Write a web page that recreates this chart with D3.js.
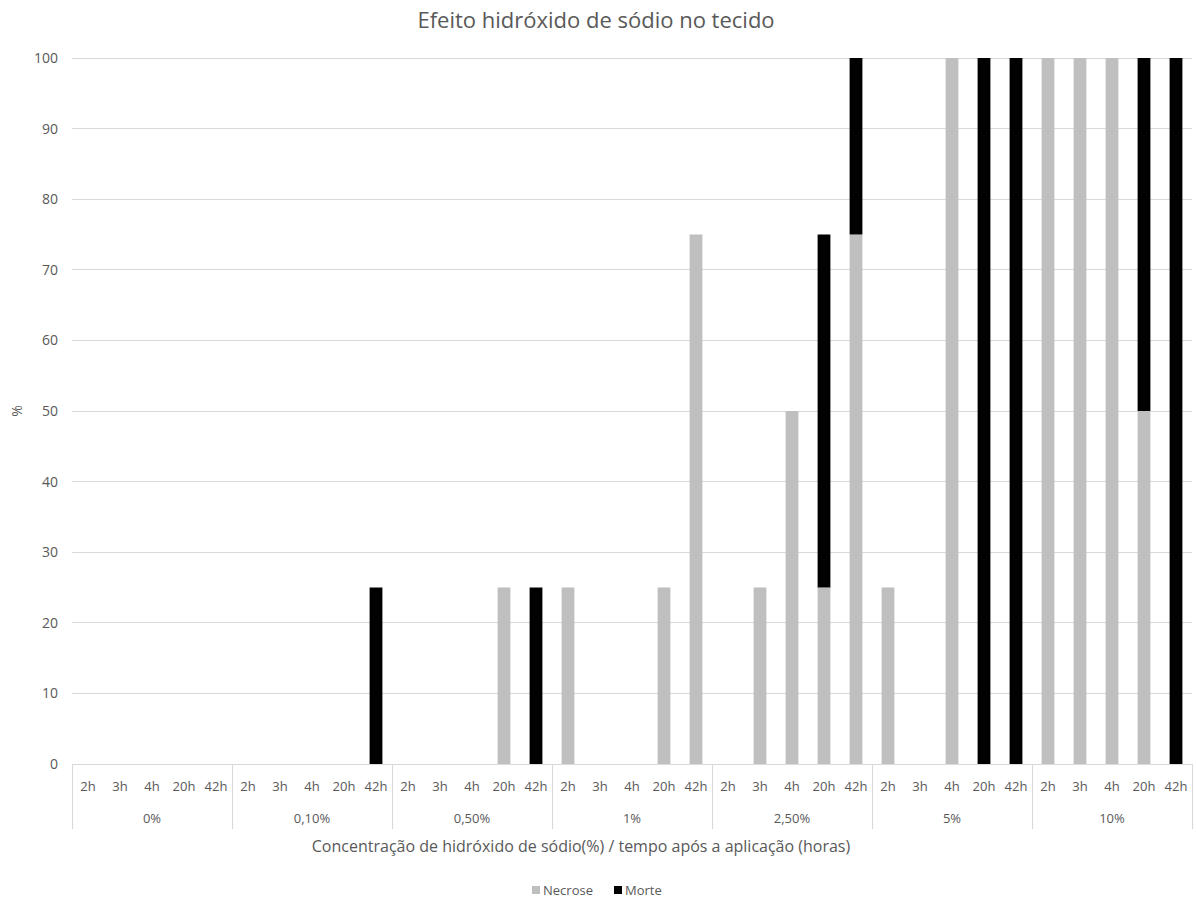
<!DOCTYPE html>
<html><head><meta charset="utf-8">
<script src="https://cdn.jsdelivr.net/npm/d3@7"></script>
<style>body{margin:0;background:#fff;} text{font-family:"Open Sans","Noto Sans",sans-serif;}</style>
</head><body>
<svg id="c" width="1196" height="899"></svg>
<script>
const groups = ["0%","0,10%","0,50%","1%","2,50%","5%","10%"];
const times = ["2h","3h","4h","20h","42h"];
// values per group, per time
const necrose = [
  [0,0,0,0,0],
  [0,0,0,0,0],
  [0,0,0,25,0],
  [25,0,0,25,75],
  [0,25,50,25,75],
  [25,0,100,0,0],
  [100,100,100,50,0]
];
const morte = [
  [0,0,0,0,0],
  [0,0,0,0,25],
  [0,0,0,0,25],
  [0,0,0,0,0],
  [0,0,0,50,25],
  [0,0,0,100,100],
  [0,0,0,50,100]
];
const yTicks = [0,10,20,30,40,50,60,70,80,90,100];
const seriesNames = ["Necrose","Morte"];
const colors = ["#bfbfbf","#000000"];

const rows = [];
groups.forEach((g,gi)=>times.forEach((t,ti)=>rows.push({key:g+"|"+t,g,t,Necrose:necrose[gi][ti],Morte:morte[gi][ti]})));

const svg = d3.select("#c");
const L=72,R=1192,T=58,B=764;
const x = d3.scaleBand().domain(rows.map(d=>d.key)).range([L,R]).paddingInner(0.6).paddingOuter(0.3);
const y = d3.scaleLinear().domain([0,100]).range([B,T]);
const grey="#595959";

// gridlines
svg.append("g").selectAll("line").data(yTicks).join("line")
  .attr("x1",L).attr("x2",R).attr("y1",d=>y(d)).attr("y2",d=>y(d))
  .attr("stroke","#d9d9d9").attr("stroke-width",1).attr("shape-rendering","crispEdges");
// y labels
svg.append("g").selectAll("text").data(yTicks).join("text")
  .attr("x",58).attr("y",d=>y(d)).attr("dy","0.35em").attr("text-anchor","end")
  .attr("font-size",14).attr("fill",grey).text(d=>d);

// bars
const stack = d3.stack().keys(seriesNames)(rows);
svg.append("g").selectAll("g").data(stack).join("g").attr("fill",(d,i)=>colors[i])
  .selectAll("rect").data(d=>d).join("rect")
  .attr("x",d=>x(d.data.key)).attr("width",x.bandwidth())
  .attr("y",d=>y(d[1])).attr("height",d=>y(d[0])-y(d[1]));

// category axis
const step = (R-L)/rows.length;
const ax = svg.append("g");
ax.selectAll("text.t").data(rows).join("text").attr("class","t")
  .attr("x",(d,i)=>L+step*(i+0.5)).attr("y",786).attr("dy","0.35em").attr("text-anchor","middle")
  .attr("font-size",13).attr("fill",grey).text(d=>d.t);
ax.selectAll("text.g").data(groups).join("text").attr("class","g")
  .attr("x",(d,i)=>L+step*5*(i+0.5)).attr("y",818).attr("dy","0.35em").attr("text-anchor","middle")
  .attr("font-size",13).attr("fill",grey).text(d=>d);
const seps = d3.range(groups.length+1).map(i=>L+step*5*i);
ax.selectAll("line").data(seps).join("line")
  .attr("x1",d=>Math.round(d)+0.5).attr("x2",d=>Math.round(d)+0.5).attr("y1",B).attr("y2",829)
  .attr("stroke","#d9d9d9");

// titles
svg.append("text").attr("x",596).attr("y",20).attr("dy","0.35em").attr("text-anchor","middle").attr("font-size",22).attr("fill",grey)
  .text("Efeito hidróxido de sódio no tecido");
svg.append("text").attr("x",581).attr("y",846).attr("dy","0.35em").attr("text-anchor","middle").attr("font-size",16).attr("fill",grey)
  .text("Concentração de hidróxido de sódio(%)  / tempo após a aplicação (horas)");
svg.append("text").attr("transform","translate(17,411) rotate(-90)").attr("dy","0.35em").attr("text-anchor","middle").attr("font-size",14).attr("fill",grey).text("%");

// legend
const lg = svg.append("g");
const lx=[532,614];
seriesNames.forEach((s,i)=>{
  lg.append("rect").attr("x",lx[i]).attr("y",886).attr("width",8).attr("height",8).attr("fill",colors[i]);
  lg.append("text").attr("x",lx[i]+11).attr("y",890).attr("dy","0.35em").attr("font-size",13).attr("fill",grey).text(s);
});
</script>
</body></html>
